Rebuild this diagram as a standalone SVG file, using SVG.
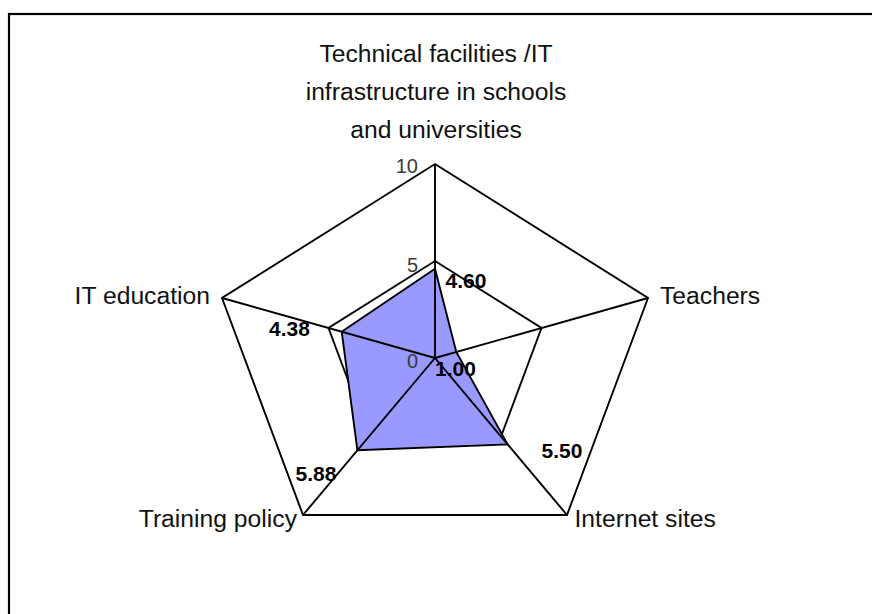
<svg xmlns="http://www.w3.org/2000/svg" width="872" height="614" viewBox="0 0 872 614">
<style>
.ln{fill:none;stroke:#000;stroke-width:1.9;stroke-linejoin:miter}
.cat{font-family:"Liberation Sans",Arial,sans-serif;font-size:24.7px;fill:#111}
.tick{font-family:"Liberation Sans",Arial,sans-serif;font-size:20px;fill:#3a3a3a;text-anchor:end}
.val{font-family:"Liberation Sans",Arial,sans-serif;font-size:21px;font-weight:bold;fill:#000}
</style>
<rect width="872" height="614" fill="#fff"/>
<rect id="frame" x="9" y="14" width="900" height="700" fill="none" stroke="#000" stroke-width="2.2"/>
<g id="grid">
<polygon class="ln" points="435,164 648,298 567,515 303,515 222,298"/>
<polygon class="ln" points="435,261 541.5,328 501,436.5 369,436.5 328.5,328"/>
</g>
<g id="series">
<polygon points="435,268.8 456.3,352 507.6,444.4 357.4,450.3 341.7,331.7" fill="#9999ff" stroke="#000" stroke-width="1.9"/>
</g>
<g id="connectors">
<line class="ln" x1="435" y1="358" x2="435" y2="164"/>
<line class="ln" x1="435" y1="358" x2="648" y2="298"/>
<line class="ln" x1="435" y1="358" x2="567" y2="515"/>
<line class="ln" x1="435" y1="358" x2="303" y2="515"/>
<line class="ln" x1="435" y1="358" x2="222" y2="298"/>
</g>
<g id="ticks">
<text class="tick" x="418" y="173">10</text>
<text class="tick" x="418" y="272">5</text>
<text class="tick" x="418" y="368">0</text>
</g>
<g id="node-technical">
<text class="cat" text-anchor="middle" x="436" y="62">Technical facilities /IT</text>
<text class="cat" text-anchor="middle" x="436" y="100">infrastructure in schools</text>
<text class="cat" text-anchor="middle" x="436" y="138">and universities</text>
</g>
<g id="node-teachers"><text class="cat" x="660" y="303.5">Teachers</text></g>
<g id="node-internet"><text class="cat" x="574.5" y="526.5">Internet sites</text></g>
<g id="node-training"><text class="cat" text-anchor="end" x="297" y="526.5">Training policy</text></g>
<g id="node-it"><text class="cat" text-anchor="end" x="210" y="304">IT education</text></g>
<g id="values">
<text class="val" x="445.5" y="288">4.60</text>
<text class="val" x="435" y="376">1.00</text>
<text class="val" x="541.5" y="458">5.50</text>
<text class="val" x="295.5" y="481">5.88</text>
<text class="val" x="269" y="336">4.38</text>
</g>
</svg>
